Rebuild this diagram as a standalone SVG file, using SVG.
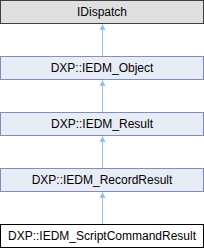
<svg xmlns="http://www.w3.org/2000/svg" width="204" height="248" viewBox="0 0 204 248">
<style>
.n rect{fill:#e8ecf6;stroke:#7f90bd;stroke-width:1}
.g rect{fill:#e0e0e0;stroke:#404040;stroke-width:1}
.w rect{fill:#ffffff;stroke:#000000;stroke-width:1}
text{font-family:"Liberation Sans",Arial,sans-serif;font-size:12px;fill:#000;text-anchor:middle}
.e line{stroke:#8fc4e8;stroke-width:1}
.e polygon{fill:#8fc4e8}
</style>
<rect width="204" height="248" fill="#ffffff"/>
<g class="e" id="connectors">
<line x1="102.5" y1="29" x2="102.5" y2="56"/><polygon points="102.5,24 99.5,30 105.5,30"/>
<line x1="102.5" y1="85" x2="102.5" y2="112"/><polygon points="102.5,80 99.5,86 105.5,86"/>
<line x1="102.5" y1="141" x2="102.5" y2="168"/><polygon points="102.5,136 99.5,142 105.5,142"/>
<line x1="102.5" y1="197" x2="102.5" y2="224"/><polygon points="102.5,192 99.5,198 105.5,198"/>
</g>
<g id="IDispatch" class="g"><rect x="0.5" y="0.5" width="203" height="23"/><text x="102" y="16">IDispatch</text></g>
<g id="IEDM_Object" class="n"><rect x="0.5" y="56.5" width="203" height="23"/><text x="102" y="72">DXP::IEDM_Object</text></g>
<g id="IEDM_Result" class="n"><rect x="0.5" y="112.5" width="203" height="23"/><text x="102" y="128">DXP::IEDM_Result</text></g>
<g id="IEDM_RecordResult" class="n"><rect x="0.5" y="168.5" width="203" height="23"/><text x="102" y="184">DXP::IEDM_RecordResult</text></g>
<g id="IEDM_ScriptCommandResult" class="w"><rect x="0.5" y="224.5" width="203" height="23"/><text x="102" y="240">DXP::IEDM_ScriptCommandResult</text></g>
</svg>
